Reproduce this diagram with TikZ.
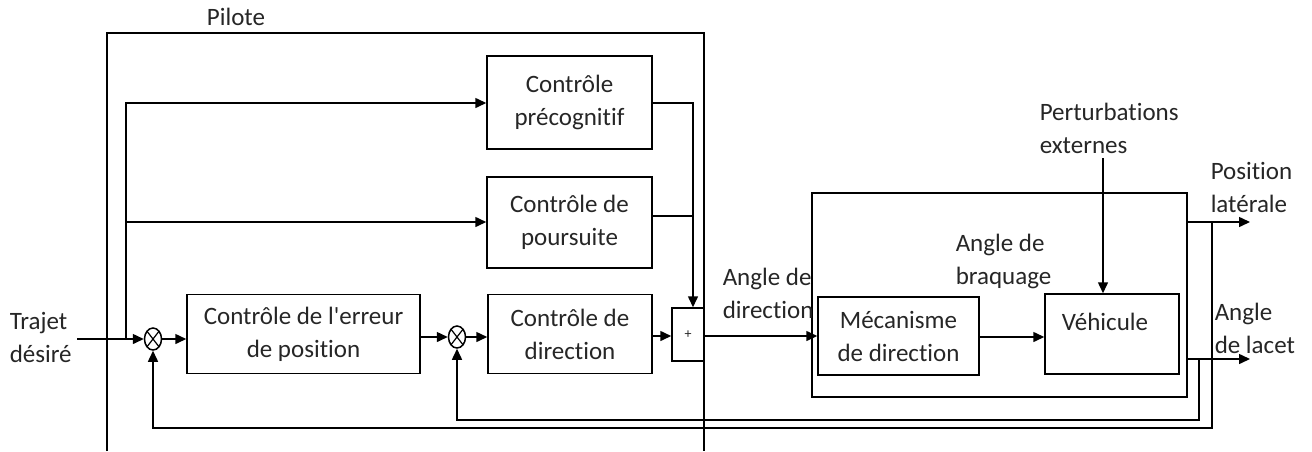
\documentclass[tikz,border=0pt]{standalone}
\usepackage{fontspec}
\newfontfamily\cfont{Carlito}[Ligatures=NoCommon]
\usetikzlibrary{arrows.meta,shapes.geometric,calc}
\begin{document}
\begin{tikzpicture}[x=1pt,y=-1pt,
  line width=1.5pt, line cap=butt,
  every node/.style={font=\cfont\fontsize{25}{33}\selectfont, text=black!85},
  blk/.style={draw, rectangle, inner sep=0pt, align=center},
  lbl/.style={align=left, inner sep=0pt},
  arr/.style={-{Triangle[length=11pt,width=10pt]}},
  summ/.style={draw, ellipse, inner sep=0pt, minimum width=17pt, minimum height=22pt,
    path picture={\draw[line width=1.2pt] (path picture bounding box.north west) -- (path picture bounding box.south east)
      (path picture bounding box.north east) -- (path picture bounding box.south west);}}
]
\useasboundingbox (0,0) rectangle (1312,451);
% Pilote frame
\coordinate (pbl) at (107,451);
\coordinate (pbr) at (704,451);
\draw (pbl) -- (107,33) -- (704,33) -- (pbr);
\node (pilote) at (236,17) {Pilote};
% blocks
\node[blk, minimum width=165pt, minimum height=93pt] (precog) at (569.5,102.5) {Contrôle\\précognitif};
\node[blk, minimum width=165pt, minimum height=91pt] (pours) at (569.5,222.5) {Contrôle de\\poursuite};
\node[blk, minimum width=164pt, minimum height=79pt] (dir) at (570,334) {Contrôle de\\direction};
\node[blk, minimum width=233pt, minimum height=79pt] (err) at (303.5,334) {Contrôle de l'erreur\\de position};
\node[summ] (s1) at (153,339) {};
\node[summ] (s2) at (457,337) {};
\node[blk, minimum width=32pt, minimum height=53pt, font=\cfont\fontsize{14}{16}\selectfont] (plus) at (688,334.5) {+};
% system
\node[blk, minimum width=375pt, minimum height=204pt] (sys) at (999.5,295) {};
\node[blk, minimum width=161pt, minimum height=78pt] (meca) at (898.5,336) {Mécanisme\\de direction};
\node[blk, minimum width=134pt, minimum height=80pt] (vehi) at (1112,334) {};
\node (vehit) at (1105,322) {Véhicule};
% labels
\node[lbl, anchor=west] (traj) at (9,337.5) {Trajet\\désiré};
\node[lbl, anchor=west] (adir) at (722,293.5) {Angle de\\direction};
\node[lbl, anchor=west] (abraq) at (955,261) {Angle de\\braquage};
\node[lbl, anchor=west] (pert) at (1039,128.5) {Perturbations\\externes};
\node[lbl, anchor=west] (posl) at (1210,187.5) {Position\\latérale};
\node[lbl, anchor=west] (alac) at (1214,328) {Angle\\de lacet};
% input and branches
\coordinate (tin) at (77,339);
\coordinate (br) at (126,339);
\draw[arr] (tin) -- (s1.west);
\draw[arr] (br) -- (126,103) -- (precog.west |- 0,103);
\draw[arr] (126,222) -- (pours.west |- 0,222);
% main chain
\draw[arr] (s1.east) -- (s1 -| err.west);
\draw[arr] (err.east |- s2) -- (s2.west);
\draw[arr] (s2.east) -- (s2 -| dir.west);
\draw[arr] (dir.east |- 0,336) -- (plus.west |- 0,336);
\coordinate (cj) at (693,103);
\draw[arr] (precog.east |- cj) -- (cj) -- (plus.north -| cj);
\draw (pours.east |- 0,216) -- (693,216);
\draw[arr] (plus.east |- 0,336) -- (meca.west |- 0,336);
\draw[arr] (meca.east |- 0,337) -- (vehi.west |- 0,337);
\coordinate (pt) at (1103,158);
\draw[arr] (pt) -- (vehi.north -| pt);
% outputs
\coordinate (po) at (1250,222);
\coordinate (yo) at (1250,359);
\draw[arr] (sys.east |- po) -- (po);
\draw[arr] (sys.east |- yo) -- (yo);
% feedback
\coordinate (fb1) at (1212,428);
\coordinate (fb2) at (1199,420);
\draw[arr] (1212,222) -- (fb1) -| (s1.south);
\draw[arr] (1199,359) -- (fb2) -| (s2.south);
\end{tikzpicture}
\end{document}
